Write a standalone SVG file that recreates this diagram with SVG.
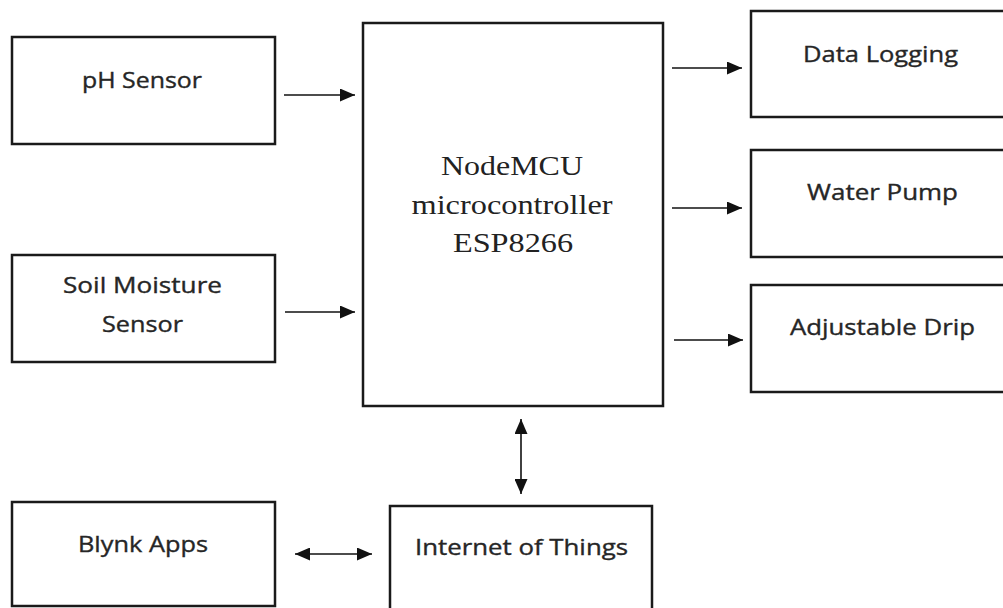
<svg xmlns="http://www.w3.org/2000/svg" width="1003" height="608" viewBox="0 0 1003 608">
<style>
.box{fill:#fff;stroke:#1a1a1a;stroke-width:2.5}
.t{font-family:"Open Sans","Liberation Sans",sans-serif;font-size:21px;fill:#262626;stroke:#262626;stroke-width:0.35;text-anchor:middle}
.tm{font-family:"Liberation Serif","Times New Roman",serif;font-size:28px;fill:#222;text-anchor:middle}
.c{stroke:#111;stroke-width:1.6;fill:none}
</style>
<defs>
<marker id="ah" viewBox="0 0 15 13" refX="15" refY="6.5" markerWidth="15" markerHeight="13" markerUnits="userSpaceOnUse" orient="auto-start-reverse">
<path d="M0,0 L15,6.5 L0,13 Z" fill="#111"/>
</marker>
</defs>
<rect width="1003" height="608" fill="#fff"/>
<g id="ph-sensor">
<rect class="box" x="12" y="37" width="263" height="107"/>
<text class="t" x="142" y="88" textLength="120" lengthAdjust="spacingAndGlyphs">pH Sensor</text>
</g>
<g id="soil-sensor">
<rect class="box" x="12" y="255" width="263" height="107"/>
<text class="t" x="142.5" y="293" textLength="159" lengthAdjust="spacingAndGlyphs">Soil Moisture</text>
<text class="t" x="142.5" y="332" textLength="81" lengthAdjust="spacingAndGlyphs">Sensor</text>
</g>
<g id="nodemcu">
<rect class="box" x="363" y="23" width="300" height="383"/>
<text class="tm" x="512" y="175" textLength="142" lengthAdjust="spacingAndGlyphs">NodeMCU</text>
<text class="tm" x="512" y="214" textLength="201" lengthAdjust="spacingAndGlyphs">microcontroller</text>
<text class="tm" x="513" y="252" textLength="120" lengthAdjust="spacingAndGlyphs">ESP8266</text>
</g>
<g id="data-logging">
<rect class="box" x="751" y="11" width="270" height="106"/>
<text class="t" x="880.5" y="62" textLength="155" lengthAdjust="spacingAndGlyphs">Data Logging</text>
</g>
<g id="water-pump">
<rect class="box" x="751" y="150" width="270" height="107"/>
<text class="t" x="882.5" y="200" textLength="151" lengthAdjust="spacingAndGlyphs">Water Pump</text>
</g>
<g id="adjustable-drip">
<rect class="box" x="751" y="285" width="270" height="107"/>
<text class="t" x="882.5" y="335" textLength="185" lengthAdjust="spacingAndGlyphs">Adjustable Drip</text>
</g>
<g id="blynk-apps">
<rect class="box" x="12" y="502" width="263" height="104"/>
<text class="t" x="143" y="552" textLength="130" lengthAdjust="spacingAndGlyphs">Blynk Apps</text>
</g>
<g id="iot">
<rect class="box" x="390" y="506" width="262" height="120"/>
<text class="t" x="521.5" y="555" textLength="213" lengthAdjust="spacingAndGlyphs">Internet of Things</text>
</g>
<g id="connectors">
<line class="c" x1="284" y1="95" x2="355" y2="95" marker-end="url(#ah)"/>
<line class="c" x1="285" y1="312" x2="355" y2="312" marker-end="url(#ah)"/>
<line class="c" x1="672" y1="68" x2="742" y2="68" marker-end="url(#ah)"/>
<line class="c" x1="672" y1="208" x2="742" y2="208" marker-end="url(#ah)"/>
<line class="c" x1="674" y1="340" x2="743" y2="340" marker-end="url(#ah)"/>
<line class="c" x1="521" y1="419" x2="521" y2="494" marker-start="url(#ah)" marker-end="url(#ah)"/>
<line class="c" x1="295" y1="554" x2="372" y2="554" marker-start="url(#ah)" marker-end="url(#ah)"/>
</g>
</svg>
